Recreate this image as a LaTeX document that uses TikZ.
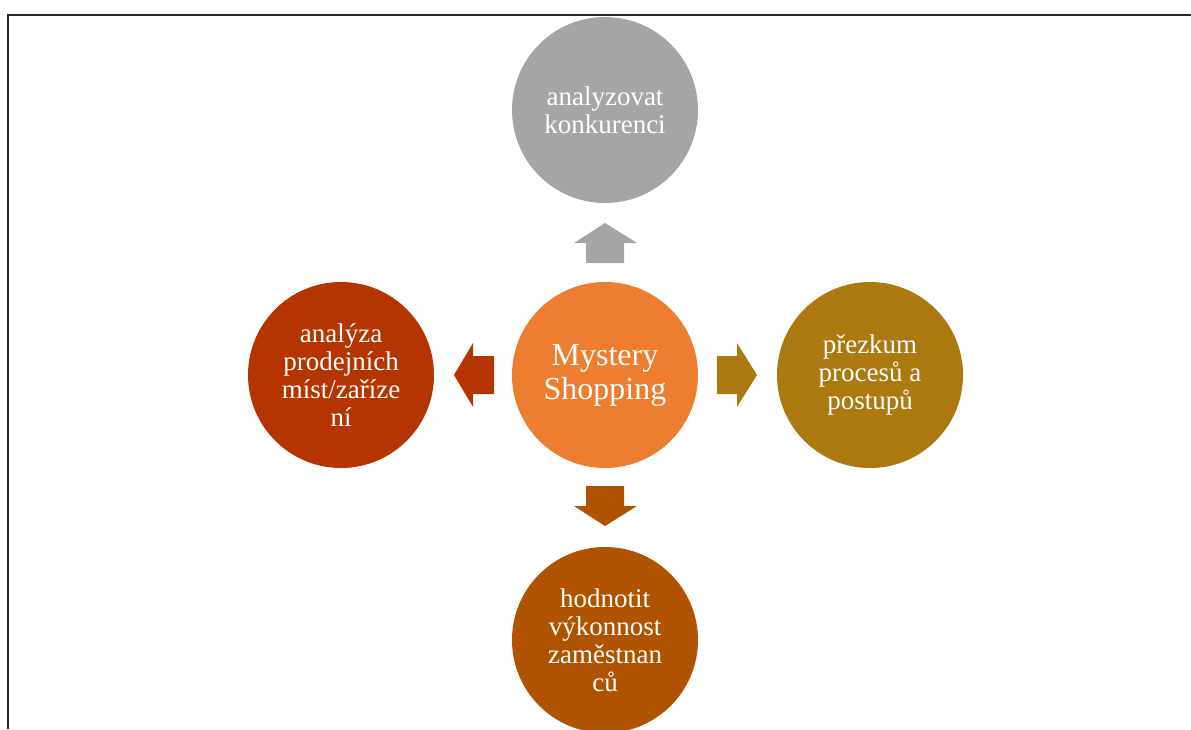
\documentclass[tikz,border=0pt]{standalone}
\usepackage{fontspec}
\setmainfont{Liberation Serif}
\definecolor{cOrange}{HTML}{ED7D31}
\definecolor{cGrey}{HTML}{A5A5A5}
\definecolor{cRust}{HTML}{B43500}
\definecolor{cOchre}{HTML}{AC7810}
\definecolor{cBrown}{HTML}{B05300}
\begin{document}
\begin{tikzpicture}[x=1pt,y=-1pt,
  bubble/.style={circle,minimum size=186pt,inner sep=0pt,text=white,align=center,
    font=\fontsize{27}{28}\selectfont},
  hub/.style={bubble,font=\fontsize{32}{34}\selectfont},
  frameline/.style={line width=2.5pt,black!85}]
\useasboundingbox (0,0) rectangle (1191,729);
% outer frame (top and left edges only)
\draw[frameline] (8,729) -- (8,15) -- (1191,15);
% circles
\node[hub,fill=cOrange] (c) at (605,375) {Mystery\\Shopping};
\node[bubble,fill=cGrey] (t) at (605,110) {analyzovat\\konkurenci};
\node[bubble,fill=cRust] (l) at (341,375) {analýza\\prodejních\\míst/zaříze\\ní};
\node[bubble,fill=cOchre] (r) at (870,375) {přezkum\\procesů a\\postupů};
\node[bubble,fill=cBrown] (b) at (605,640) {hodnotit\\výkonnost\\zaměstnan\\ců};
% block arrows pointing outward from the hub
\fill[cGrey] (586,263) -- (586,243) -- (574,243) -- (605,223) -- (637,243) -- (624,243) -- (624,263) -- cycle;
\fill[cBrown] (586,486) -- (586,506) -- (574,506) -- (605,526) -- (637,506) -- (624,506) -- (624,486) -- cycle;
\fill[cRust] (494,356) -- (473,356) -- (473,343) -- (454,375) -- (473,407) -- (473,394) -- (494,394) -- cycle;
\fill[cOchre] (717,356) -- (737,356) -- (737,343) -- (757,375) -- (737,407) -- (737,394) -- (717,394) -- cycle;
\end{tikzpicture}
\end{document}
